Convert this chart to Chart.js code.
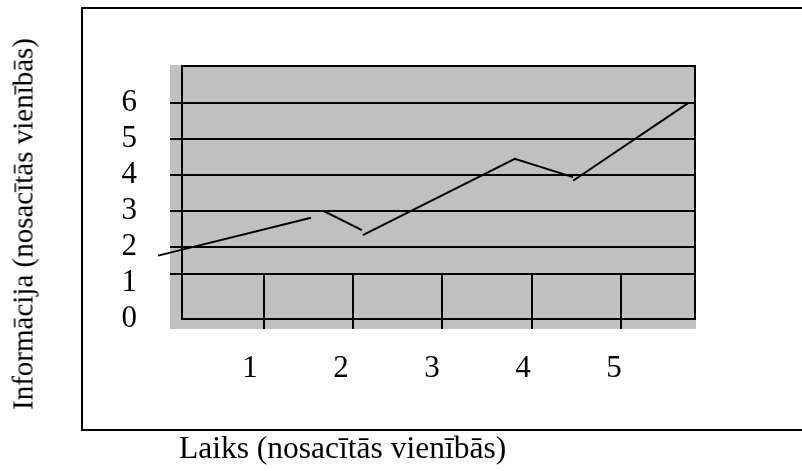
<!DOCTYPE html>
<html>
<head>
<meta charset="utf-8">
<script src="https://cdn.jsdelivr.net/npm/chart.js@4/dist/chart.umd.min.js"></script>
<style>
html,body{margin:0;padding:0;background:#fff;overflow:hidden;}
#wrap{position:relative;width:802px;height:471px;overflow:hidden;}
#frame{position:absolute;left:81px;top:7px;width:800px;height:420px;border:2px solid #000;}
#chart{position:absolute;left:0;top:0;}
.ttl{position:absolute;font-family:"Liberation Serif","Times New Roman",serif;color:#000;white-space:nowrap;line-height:1;}
#ytitle{font-size:29px;left:23px;top:224px;transform:translate(-50%,-50%) rotate(-90deg);}
#xtitle{font-size:31.5px;left:179px;top:432px;}
</style>
</head>
<body>
<div id="wrap">
	<div id="frame"></div>
	<canvas id="chart" width="802" height="471"></canvas>
	<div class="ttl" id="ytitle">Informācija (nosacītās vienībās)</div>
	<div class="ttl" id="xtitle">Laiks (nosacītās vienībās)</div>
</div>
<script>
// tick labels
var timeTicks=[1,2,3,4,5];
var infoTicks=[0,1,2,3,4,5,6];
// ruled lines of the sketch
var infoLevels=[1.25,2,3,4,5,6];
var timeDividers=[1.15,2.13,3.11,4.10,5.08];
// the curve (null = pen lifted)
var timeVals=[-0.01,1.67,1.74,1.81,2.23,2.235,2.24,3.91,4.55,4.55,4.55,5.81];
var infoVals=[1.76,2.81,null,3.0,2.47,null,2.33,4.45,3.94,null,3.84,5.99];

var points=[];
for(var i=0;i<timeVals.length;i++){
	points.push({x:timeVals[i],y:infoVals[i]});
}

var serif='"Liberation Serif","Times New Roman",serif';
Chart.defaults.font.family=serif;
Chart.defaults.color="#000";

// gray plate, inner box and the short dividers at the bottom
var sketch={
	id:"sketch",
	beforeDraw:function(chart){
		var ctx=chart.ctx,a=chart.chartArea,x=chart.scales.x,y=chart.scales.y;
		ctx.save();
		ctx.fillStyle="#c0c0c0";
		ctx.fillRect(a.left,a.top,a.right-a.left,a.bottom-a.top);
		ctx.strokeStyle="#000";
		ctx.lineWidth=2;
		var l=Math.round(x.getPixelForValue(0.25)),b=Math.round(y.getPixelForValue(0));
		ctx.strokeRect(l,a.top+1,a.right-1-l,b-a.top-1);
		var bandTop=y.getPixelForValue(infoLevels[0]);
		ctx.beginPath();
		timeDividers.forEach(function(v){
			var px=Math.round(x.getPixelForValue(v));
			ctx.moveTo(px,bandTop);
			ctx.lineTo(px,a.bottom);
		});
		ctx.stroke();
		ctx.restore();
	}
};

new Chart(document.getElementById("chart"),{
	type:"line",
	data:{
		datasets:[{
			data:points,
			borderColor:"#000",
			borderWidth:2,
			pointRadius:0,
			tension:0,
			fill:false,
			spanGaps:false,
			clip:false
		}]
	},
	options:{
		responsive:false,
		animation:false,
		layout:{padding:{left:0,top:65,right:106,bottom:0}},
		plugins:{legend:{display:false},tooltip:{enabled:false}},
		scales:{
			x:{
				type:"linear",position:"bottom",min:0.121,max:5.901,
				afterBuildTicks:function(s){s.ticks=timeTicks.map(function(v){return {value:v};});},
				afterFit:function(s){s.height=142;},
				ticks:{font:{size:31},padding:13,maxRotation:0,autoSkip:false},
				grid:{display:false},
				border:{display:false}
			},
			y:{
				type:"linear",position:"left",min:-0.278,max:7.056,
				afterBuildTicks:function(s){s.ticks=infoTicks.map(function(v){return {value:v};});},
				afterFit:function(s){s.width=170;},
				ticks:{font:{size:31},padding:25,autoSkip:false},
				grid:{display:false},
				border:{display:false}
			},
			yg:{
				type:"linear",position:"left",min:-0.278,max:7.056,
				afterBuildTicks:function(s){s.ticks=infoLevels.map(function(v){return {value:v};});},
				afterFit:function(s){s.width=0;},
				ticks:{display:false},
				grid:{color:"#000",lineWidth:2,drawTicks:false},
				border:{display:false}
			}
		}
	},
	plugins:[sketch]
});
</script>
</body>
</html>
